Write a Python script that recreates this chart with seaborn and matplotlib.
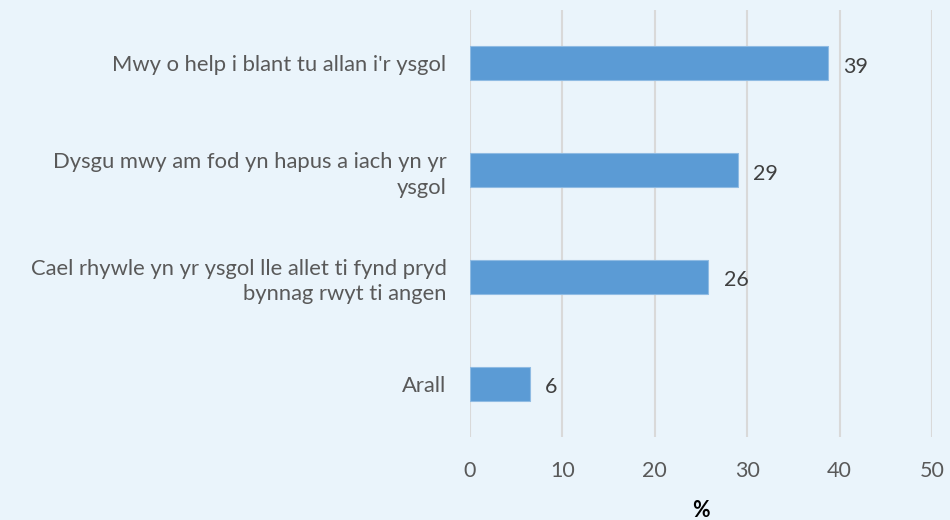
import matplotlib
matplotlib.use("Agg")
import matplotlib.pyplot as plt
import seaborn as sns
import pandas as pd

categories = [
    "Mwy o help i blant tu allan i'r ysgol",
    "Dysgu mwy am fod yn hapus a iach yn yr\nysgol",
    "Cael rhywle yn yr ysgol lle allet ti fynd pryd\nbynnag rwyt ti angen",
    "Arall",
]
values = [38.7, 29.0, 25.8, 6.5]
value_labels = ["39", "29", "26", "6"]
x_ticks = [0, 10, 20, 30, 40, 50]

bg = "#EAF4FB"
bar_color = "#5B9BD5"
text_color = "#595959"

sns.set_theme(style="white")
plt.rcParams["font.family"] = ["Lato", "DejaVu Sans"]

df = pd.DataFrame({"cat": categories, "val": values})

fig = plt.figure(figsize=(9.5, 5.2), dpi=100, facecolor=bg)
ax = fig.add_axes([470 / 950, 1 - 437 / 520, (932 - 470) / 950, (437 - 10) / 520])
ax.set_facecolor(bg)

sns.barplot(data=df, x="val", y="cat", color=bar_color, width=0.32,
            saturation=1, edgecolor="#8FBBE3", linewidth=0.8, ax=ax, zorder=3)

ax.set_xlim(0, 50)
ax.set_xticks(x_ticks)
ax.set_xticklabels([str(t) for t in x_ticks])
ax.grid(axis="x", color="#D9D9D9", linewidth=1.5, zorder=0)
ax.grid(axis="y", visible=False)
for s in ax.spines.values():
    s.set_visible(False)

ax.tick_params(axis="x", length=0, pad=17, labelsize=15.5, labelcolor=text_color)
ax.tick_params(axis="y", length=0, pad=17, labelsize=15.8, labelcolor=text_color)
for lbl in ax.get_yticklabels():
    lbl.set_horizontalalignment("right")
    lbl.set_multialignment("right")
    lbl.set_linespacing(1.35)

ax.set_ylabel("")
ax.set_xlabel("%", fontsize=15.5, fontweight="bold", color="black", labelpad=14)

for container in ax.containers:
    texts = ax.bar_label(container, labels=value_labels, padding=11, fontsize=15.5,
                         color="#404040")
    for t in texts:
        t.xyann = (11, -2.5)

fig.savefig("out.png", dpi=100, facecolor=bg)
